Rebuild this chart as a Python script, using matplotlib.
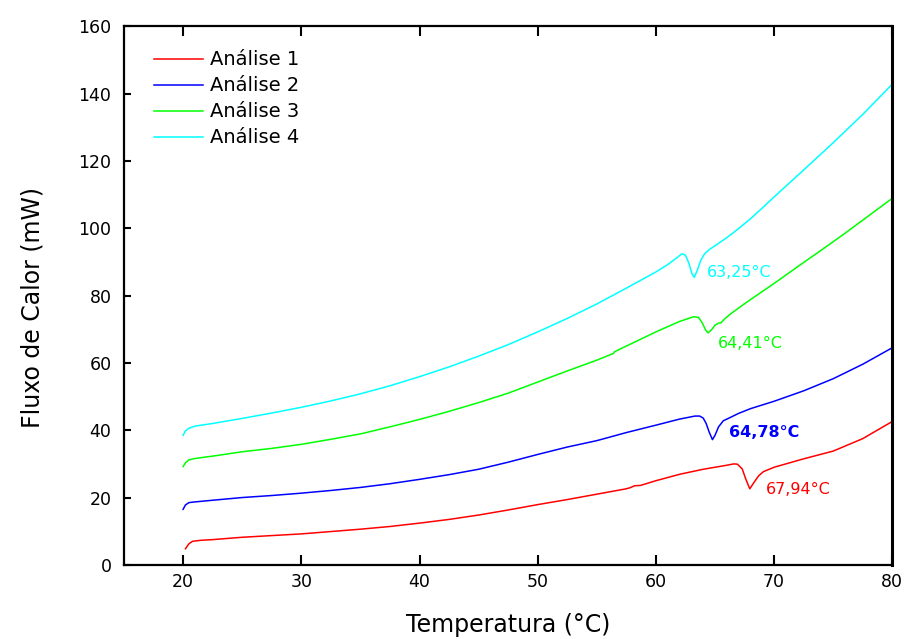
import matplotlib.pyplot as plt

plt.rcParams['font.family'] = ['DejaVu Sans']

# DSC curves: temperature (°C) and heat flow (mW) for each run
t1 = [20.2, 20.5, 20.8, 21.5, 22.5, 25, 27.5, 30, 32.5, 35, 37.5, 40, 42.5, 45,
      47.5, 50, 52.5, 55, 57.5, 57.8, 58.2, 58.7, 60, 62, 64, 66, 66.6, 66.9,
      67.3, 67.6, 67.94, 68.3, 68.7, 69.1, 70, 72.5, 75, 77.5, 80]
f1 = [4.8, 6.3, 7.0, 7.3, 7.5, 8.2, 8.7, 9.2, 9.9, 10.6, 11.4, 12.4, 13.5, 14.8,
      16.3, 17.9, 19.4, 21.0, 22.6, 22.9, 23.5, 23.6, 25.0, 26.9, 28.4, 29.6, 30.0, 29.9,
      28.5, 25.5, 22.6, 24.5, 26.5, 27.7, 29.0, 31.5, 33.8, 37.5, 42.6]

t2 = [20.0, 20.2, 20.5, 21, 22.5, 25, 27.5, 30, 32.5, 35, 37.5, 40, 42.5, 45,
      47.5, 50, 52.5, 55, 57.5, 60, 62, 63.3, 63.7, 64.0, 64.25, 64.5, 64.78,
      65.0, 65.3, 65.7, 66.3, 67, 68, 70, 72.5, 75, 77.5, 80]
f2 = [16.5, 17.8, 18.5, 18.7, 19.2, 20.0, 20.6, 21.3, 22.1, 23.0, 24.1, 25.4, 26.8, 28.4,
      30.5, 32.8, 35.0, 36.9, 39.3, 41.5, 43.3, 44.2, 44.2, 43.6, 42.0, 39.5, 37.2,
      38.5, 41.0, 42.8, 43.8, 45.0, 46.4, 48.6, 51.7, 55.3, 59.6, 64.5]

t3 = [20.0, 20.2, 20.5, 21, 22.5, 25, 27.5, 30, 32.5, 35, 37.5, 40, 42.5, 45,
      47.5, 50, 52.5, 55, 56.4, 56.5, 57.5, 60, 62, 63.2, 63.6, 63.9, 64.2, 64.41,
      64.7, 65.0, 65.3, 65.5, 65.8, 66.3, 67, 68, 70, 72, 74, 76, 78, 80]
f3 = [29.2, 30.3, 31.2, 31.6, 32.3, 33.6, 34.6, 35.8, 37.3, 38.9, 41.0, 43.2, 45.6, 48.2,
      51.0, 54.3, 57.6, 60.8, 62.8, 63.3, 65.0, 69.2, 72.3, 73.7, 73.5, 72.0, 69.8, 68.9,
      69.8, 71.2, 71.8, 71.9, 73.0, 74.5, 76.3, 78.8, 83.6, 88.6, 93.5, 98.5, 103.7, 108.9]

t4 = [20.0, 20.2, 20.5, 21, 22.5, 25, 27.5, 30, 32.5, 35, 37.5, 40, 42.5, 45,
      47.5, 50, 52.5, 55, 57.5, 60, 61, 61.8, 62.2, 62.5, 62.8, 63.05, 63.25, 63.5,
      63.8, 64.1, 64.5, 65, 66, 67, 68, 69, 70, 72.5, 75, 77.5, 80]
f4 = [38.5, 39.8, 40.6, 41.2, 42.0, 43.5, 45.1, 46.8, 48.7, 50.8, 53.2, 55.9, 58.8, 62.0,
      65.4, 69.2, 73.2, 77.5, 82.2, 87.0, 89.2, 91.3, 92.4, 92.0, 89.5, 86.5, 85.4, 87.5,
      90.5, 92.3, 93.6, 94.8, 97.2, 99.9, 102.8, 106.0, 109.3, 117.3, 125.4, 133.8, 142.8]

labels = ['Análise 1', 'Análise 2', 'Análise 3', 'Análise 4']
colors = ['#ff0000', '#0000ff', '#00ff00', '#00ffff']
peaks = ['67,94°C', '64,78°C', '64,41°C', '63,25°C']
peak_pos = [(69.3, 22.5), (66.2, 39.2), (65.2, 65.9), (64.3, 86.9)]

fig = plt.figure(figsize=(9.05, 6.39), dpi=100)
ax = fig.add_axes([0.137, 0.116, 0.849, 0.843])

for t, f, lab, c in zip([t1, t2, t3, t4], [f1, f2, f3, f4], labels, colors):
    ax.plot(t, f, color=c, lw=1.1, label=lab)

for txt, (x, y), c in zip(peaks, peak_pos, colors):
    ax.text(x, y, txt, color=c, fontsize=11.5, va='center', ha='left',
            fontweight='bold' if txt == '64,78°C' else 'normal')

ax.set_xlim(15, 80)
ax.set_ylim(0, 160)
ax.set_xticks(range(20, 81, 10))
ax.set_yticks(range(0, 161, 20))
ax.tick_params(axis='both', direction='in', labelsize=12.5)
ax.tick_params(axis='x', length=7, width=1.5, pad=6, top=True)
ax.tick_params(axis='y', length=5, width=1.5, pad=9)
for s in ax.spines.values():
    s.set_linewidth(1.6)
ax.spines['right'].set_linewidth(2.2)

ax.set_xlabel('Temperatura (°C)', fontsize=17, labelpad=16)
ax.set_ylabel('Fluxo de Calor (mW)', fontsize=17)
ax.yaxis.set_label_coords(-0.103, 0.477)

ax.legend(loc='upper left', frameon=False, fontsize=14, handlelength=2.5,
          labelspacing=0.36, handletextpad=0.4, borderpad=0, borderaxespad=0,
          bbox_to_anchor=(0.039, 0.955))

fig.savefig('out.png', dpi=100)
